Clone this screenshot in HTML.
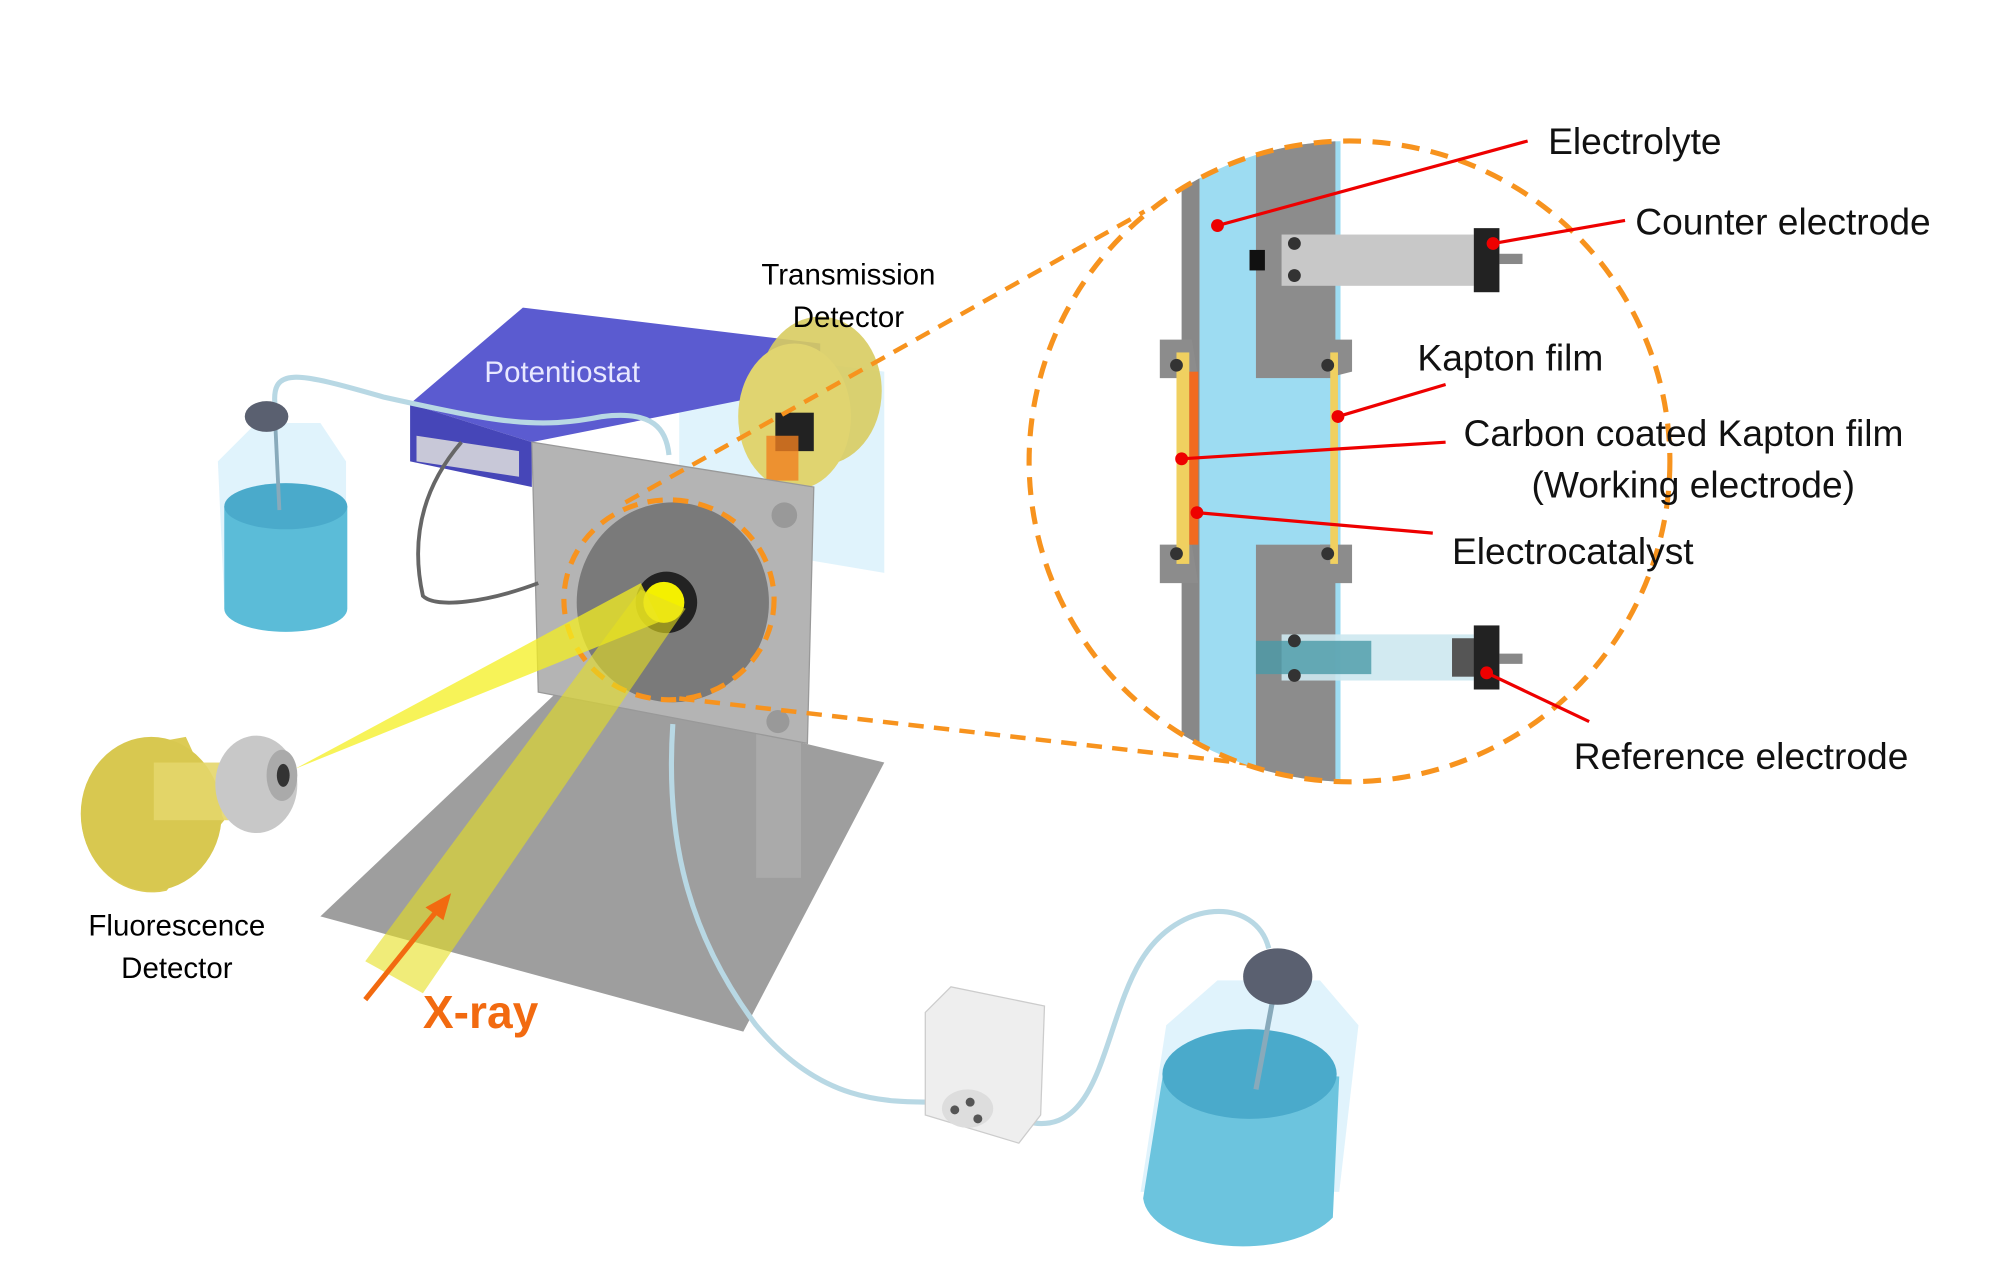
<!DOCTYPE html>
<html><head><meta charset="utf-8"><style>html,body{margin:0;padding:0;background:#fff}svg{display:block}</style></head>
<body>
<svg width="1989" height="1267" viewBox="0 0 1552 988.6" xmlns="http://www.w3.org/2000/svg" font-family="Liberation Sans, Arial, sans-serif">
<polygon points="530,270 690,290 690,447 530,420" fill="#d8f0fb" opacity="0.8"/>
<polygon points="320,315 408,240 640,268 640,300 415,345" fill="#5b5bd0"/>
<polygon points="320,315 415,345 415,380 320,360" fill="#4646b8"/>
<polygon points="325,340 405,352 405,372 325,360" fill="#c8c8d8"/>
<text x="378" y="298" font-size="23" fill="#e8e8ff">Potentiostat</text>
<ellipse cx="640" cy="305" rx="48" ry="58" fill="#d8cc60" opacity="0.9"/>
<ellipse cx="620" cy="325" rx="44" ry="57" fill="#e0d470"/>
<rect x="605" y="322" width="30" height="30" fill="#222"/>
<rect x="598" y="340" width="25" height="35" fill="#f08020" opacity="0.8"/>
<polygon points="250,715 440,535 690,595 580,805" fill="#9e9e9e"/>
<rect x="590" y="570" width="35" height="115" fill="#aaaaaa"/>
<polygon points="415,345 635,380 630,580 420,540" fill="#b4b4b4" stroke="#999"/>
<circle cx="612" cy="402" r="10" fill="#999"/>
<circle cx="607" cy="563" r="9" fill="#999"/>
<ellipse cx="525" cy="470" rx="75" ry="78" fill="#7a7a7a"/>
<circle cx="520" cy="470" r="24" fill="#222"/>
<circle cx="518" cy="470" r="16" fill="#f4f000"/>
<ellipse cx="522" cy="468" rx="82" ry="78" fill="none" stroke="#f7931e" stroke-width="4" stroke-dasharray="12,8"/>
<polygon points="230,600 500,455 515,485" fill="#f4ef20" opacity="0.75"/>
<polygon points="285,750 330,775 535,475 500,460" fill="#e6e020" opacity="0.6"/>
<path d="M215,320 C210,285 230,290 300,310 C390,330 420,335 470,325 C510,320 520,335 522,355" fill="none" stroke="#b8d8e4" stroke-width="4"/>
<path d="M360,345 C330,380 320,420 330,465 C340,475 380,470 420,455" fill="none" stroke="#666" stroke-width="3"/>
<path d="M525,565 C520,640 530,720 590,800 C640,860 690,860 730,860" fill="none" stroke="#b8d8e4" stroke-width="4"/>
<path d="M800,875 C860,890 860,800 890,750 C920,700 980,700 990,740" fill="none" stroke="#b8d8e4" stroke-width="4"/>
<polygon points="170,360 200,330 250,330 270,360 270,470 175,470" fill="#d8f0fb" opacity="0.8"/>
<path d="M175,395 L175,475 A48,18 0 0 0 271,475 L271,395 Z" fill="#5bbcd8"/>
<ellipse cx="223" cy="395" rx="48" ry="18" fill="#4aaacb"/>
<line x1="215" y1="335" x2="218" y2="398" stroke="#8ab" stroke-width="3"/>
<ellipse cx="208" cy="325" rx="17" ry="12" fill="#5a6070"/>
<polygon points="910,800 950,765 1030,765 1060,800 1045,930 890,930" fill="#d8f0fb" opacity="0.8"/>
<path d="M908,835 L892,935 A78,40 0 0 0 1040,950 L1045,840 Z" fill="#6cc4de"/>
<ellipse cx="975" cy="838" rx="68" ry="35" fill="#4aaacb"/>
<line x1="995" y1="770" x2="980" y2="850" stroke="#8ab" stroke-width="4"/>
<ellipse cx="997" cy="762" rx="27" ry="22" fill="#5a6070"/>
<polygon points="722,790 742,770 815,785 812,870 795,892 722,870" fill="#eeeeee" stroke="#ccc"/>
<ellipse cx="755" cy="865" rx="20" ry="15" fill="#ddd"/>
<circle cx="745" cy="866" r="3.5" fill="#555"/><circle cx="757" cy="860" r="3.5" fill="#555"/><circle cx="763" cy="873" r="3.5" fill="#555"/>
<path d="M90,585 L145,575 L175,640 L130,695 A55,60 0 0 1 90,585 Z" fill="#dccb55"/>
<ellipse cx="118" cy="635" rx="55" ry="60" fill="#d8c850"/>
<rect x="120" y="595" width="60" height="45" fill="#e4d66a" opacity="0.9"/>
<ellipse cx="200" cy="612" rx="32" ry="38" fill="#c8c8c8"/>
<ellipse cx="220" cy="605" rx="12" ry="20" fill="#aaa"/>
<ellipse cx="221" cy="605" rx="5" ry="9" fill="#333"/>
<line x1="285" y1="780" x2="343" y2="708" stroke="#f26a10" stroke-width="4"/>
<polygon points="352,697 332,708 346,718" fill="#f26a10"/>
<text x="330" y="802" font-size="36" font-weight="bold" fill="#f26a10">X-ray</text>
<text x="138" y="730" font-size="23" text-anchor="middle">Fluorescence</text>
<text x="138" y="763" font-size="23" text-anchor="middle">Detector</text>
<text x="662" y="222" font-size="23" text-anchor="middle">Transmission</text>
<text x="662" y="255" font-size="23" text-anchor="middle">Detector</text>
<line x1="488" y1="392" x2="893" y2="165" stroke="#f7931e" stroke-width="3.5" stroke-dasharray="12,8"/>
<line x1="530" y1="545" x2="1010" y2="600" stroke="#f7931e" stroke-width="3.5" stroke-dasharray="12,8"/>
<defs><clipPath id="c"><ellipse cx="1053" cy="360" rx="250" ry="250"/></clipPath></defs>
<g clip-path="url(#c)">
<rect x="922" y="100" width="14" height="520" fill="#888"/>
<rect x="936" y="100" width="110" height="520" fill="#9ddcf2"/>
<rect x="980" y="100" width="62" height="195" fill="#8c8c8c"/>
<rect x="980" y="425" width="62" height="200" fill="#8c8c8c"/>
<rect x="1000" y="183" width="150" height="40" fill="#c8c8c8"/>
<rect x="975" y="195" width="12" height="16" fill="#111"/>
<rect x="1150" y="178" width="20" height="50" fill="#222"/>
<rect x="1170" y="198" width="18" height="8" fill="#888"/>
<rect x="1000" y="495" width="150" height="36" fill="#cde8f0" opacity="0.9"/>
<rect x="980" y="500" width="90" height="26" fill="#4a9aa8" opacity="0.8"/>
<rect x="1133" y="498" width="20" height="30" fill="#555"/>
<rect x="1150" y="488" width="20" height="50" fill="#222"/>
<rect x="1170" y="510" width="18" height="8" fill="#888"/>
<polygon points="905,265 930,265 935,295 905,295 905,285" fill="#8c8c8c"/>
<polygon points="905,425 930,425 935,455 905,455" fill="#8c8c8c"/>
<polygon points="1030,265 1055,265 1055,290 1035,295" fill="#8c8c8c"/>
<polygon points="1030,425 1055,425 1055,455 1035,455" fill="#8c8c8c"/>
<rect x="918" y="275" width="10" height="165" fill="#f0d060"/>
<rect x="928" y="290" width="7" height="135" fill="#f26a20"/>
<rect x="1038" y="275" width="6" height="165" fill="#f0d060"/>
<g fill="#333"><circle cx="918" cy="285" r="5"/><circle cx="918" cy="432" r="5"/><circle cx="1036" cy="285" r="5"/><circle cx="1036" cy="432" r="5"/><circle cx="1010" cy="190" r="5"/><circle cx="1010" cy="215" r="5"/><circle cx="1010" cy="500" r="5"/><circle cx="1010" cy="527" r="5"/></g>
</g>
<ellipse cx="1053" cy="360" rx="250" ry="250" fill="none" stroke="#f7931e" stroke-width="4" stroke-dasharray="14,9"/>
<g stroke="#e00" stroke-width="2.5">
<line x1="950" y1="176" x2="1192" y2="110"/>
<line x1="1165" y1="190" x2="1268" y2="172"/>
<line x1="1044" y1="325" x2="1128" y2="300"/>
<line x1="922" y1="358" x2="1128" y2="345"/>
<line x1="934" y1="400" x2="1118" y2="416"/>
<line x1="1160" y1="525" x2="1240" y2="563"/>
</g>
<g fill="#e00"><circle cx="950" cy="176" r="5"/><circle cx="1165" cy="190" r="5"/><circle cx="1044" cy="325" r="5"/><circle cx="922" cy="358" r="5"/><circle cx="934" cy="400" r="5"/><circle cx="1160" cy="525" r="5"/></g>
<g font-size="29" fill="#111">
<text x="1208" y="120">Electrolyte</text>
<text x="1276" y="183">Counter electrode</text>
<text x="1106" y="289">Kapton film</text>
<text x="1142" y="348">Carbon coated Kapton film</text>
<text x="1195" y="388">(Working electrode)</text>
<text x="1133" y="440">Electrocatalyst</text>
<text x="1228" y="600">Reference electrode</text>
</g>
</svg>
</body></html>
